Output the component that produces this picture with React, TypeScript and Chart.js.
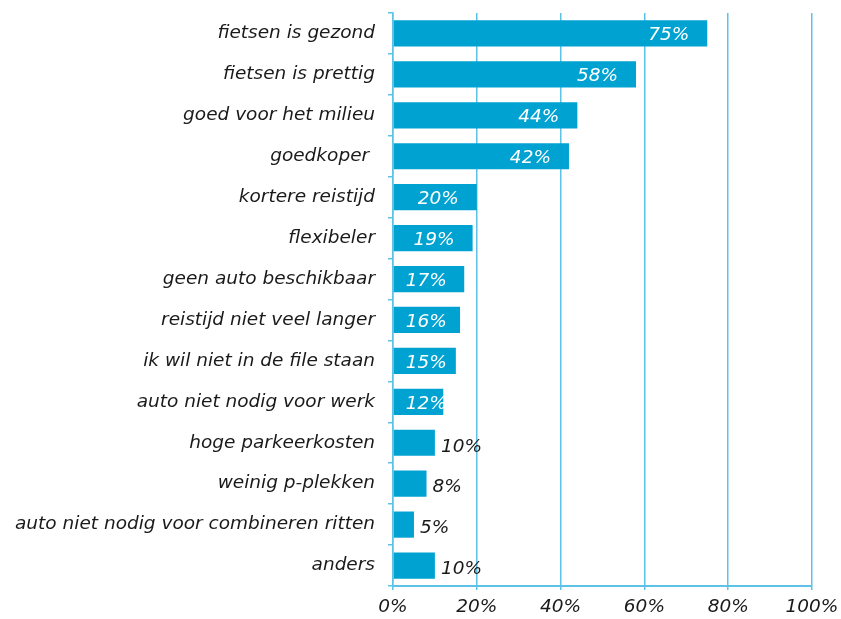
import React, { useEffect, useRef } from "react";
import { Chart, registerables } from "chart.js";

Chart.register(...registerables);

const categories = [
  "fietsen is gezond",
  "fietsen is prettig",
  "goed voor het milieu",
  "goedkoper ",
  "kortere reistijd",
  "flexibeler",
  "geen auto beschikbaar",
  "reistijd niet veel langer",
  "ik wil niet in de file staan",
  "auto niet nodig voor werk",
  "hoge parkeerkosten",
  "weinig p-plekken",
  "auto niet nodig voor combineren ritten",
  "anders",
];
const values = [75, 58, 44, 42, 20, 19, 17, 16, 15, 12, 10, 8, 5, 10];
const xTicks = [0, 20, 40, 60, 80, 100];

const BAR = "#00A2D1";
const GRID = "#5DC2E6";
const FONT = "'DejaVu Sans', Verdana, sans-serif";
const FS = 18.5;

const labelPlugin = {
  id: "barLabels",
  afterDatasetsDraw(chart: any) {
    const ctx = chart.ctx;
    const meta = chart.getDatasetMeta(0);
    ctx.save();
    ctx.font = `italic ${FS}px ${FONT}`;
    ctx.textBaseline = "middle";
    meta.data.forEach((bar: any, i: number) => {
      const v = values[i];
      const txt = `${v}%`;
      const w = ctx.measureText(txt).width;
      const x0 = bar.base;
      const x1 = bar.x;
      if (v > 10) {
        ctx.fillStyle = "#ffffff";
        ctx.textAlign = "right";
        const right = Math.max(x0 + 12 + w, x1 - 18);
        ctx.fillText(txt, right, bar.y + 2);
      } else {
        ctx.fillStyle = "#1a1a1a";
        ctx.textAlign = "left";
        ctx.fillText(txt, x1 + 6, bar.y + 4);
      }
    });
    ctx.restore();
  },
};

export default function App() {
  const ref = useRef<HTMLCanvasElement | null>(null);
  useEffect(() => {
    document.body.style.margin = "0";
    const chart = new Chart(ref.current as HTMLCanvasElement, {
      type: "bar",
      data: {
        labels: categories,
        datasets: [
          {
            data: values,
            backgroundColor: BAR,
            borderWidth: 0,
            barPercentage: 0.64,
            categoryPercentage: 1,
          },
        ],
      },
      options: {
        indexAxis: "y",
        animation: false,
        responsive: false,
        devicePixelRatio: 1,
        layout: { padding: { top: 13, right: 29, left: 0, bottom: 0 } },
        plugins: {
          legend: { display: false },
          tooltip: { enabled: false },
        },
        scales: {
          x: {
            min: 0,
            max: 100,
            afterFit: (s: any) => {
              s.height = 33;
              s.paddingLeft = 0;
              s.paddingRight = 0;
            },
            afterBuildTicks: (s: any) => {
              s.ticks = xTicks.map((v) => ({ value: v }));
            },
            grid: {
              color: GRID,
              lineWidth: 1.5,
              drawTicks: true,
              tickLength: 4,
            },
            border: { color: GRID, width: 2 },
            ticks: {
              color: "#1a1a1a",
              font: { family: FONT, size: FS, style: "italic" },
              padding: 6,
              maxRotation: 0,
              callback: (v: any) => `${v}%`,
            },
          },
          y: {
            afterFit: (s: any) => {
              s.width = 393;
              s.paddingTop = 0;
              s.paddingBottom = 0;
            },
            grid: {
              offset: true,
              drawOnChartArea: false,
              drawTicks: true,
              tickLength: 5,
              color: GRID,
              lineWidth: 1.5,
            },
            border: { color: GRID, width: 1.5 },
            ticks: {
              color: "#1a1a1a",
              font: { family: FONT, size: FS, style: "italic" },
              padding: 13,
              autoSkip: false,
            },
          },
        },
      },
      plugins: [labelPlugin],
    });
    return () => chart.destroy();
  }, []);
  return (
    <div style={{ position: "absolute", left: 0, top: 0, width: 841, height: 619, background: "#fff" }}>
      <canvas ref={ref} width={841} height={619} style={{ display: "block" }} />
    </div>
  );
}
